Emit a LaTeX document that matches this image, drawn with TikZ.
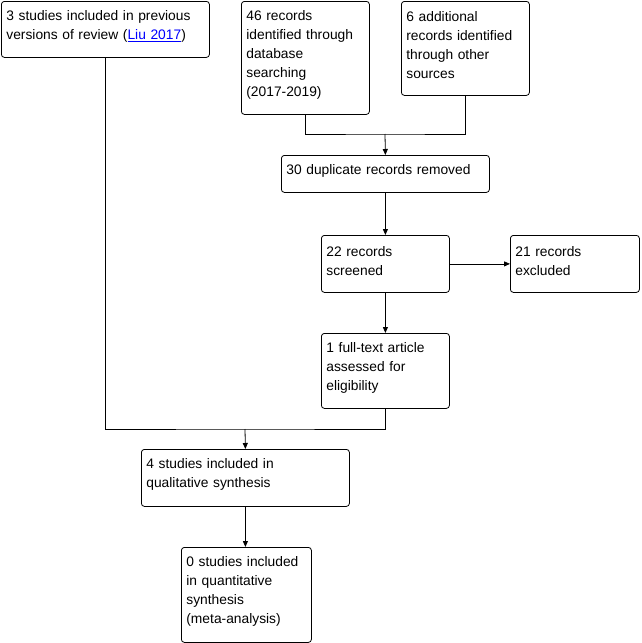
\documentclass[tikz,border=0pt]{standalone}
\usepackage{fontspec}
\setmainfont{Liberation Sans}
\usepackage{xcolor}
\usetikzlibrary{arrows.meta, calc, positioning}
\newcommand{\boxpad}{\par\vspace{6pt}}

\begin{document}
\begin{tikzpicture}[x=1pt, y=-1pt, line width=0.8pt,
        box/.style={draw, rounded corners=3pt, anchor=north west, align=left, inner xsep=5pt, inner ysep=0pt, font=\fontsize{13.8}{19}\selectfont, execute at end node={\boxpad}},
        narrow/.style={box, text width=118pt},
        wide/.style={box, text width=198pt},
        arr/.style={-{Triangle[length=6pt, width=5pt]}}]
    \useasboundingbox (0,0) rectangle (641,643);
    \node[wide, minimum height=56pt] (prev) at (1,1) {3 studies included in previous\\versions of review (\textcolor{blue}{\underline{Liu 2017}})};
    \node[narrow, minimum height=113pt] (db) at (241,1) {46 records\\identified through\\database\\searching\\(2017-2019)};
    \node[narrow, minimum height=94pt] (other) at (401,1) {6 additional\\records identified\\through other\\sources};
    \node[wide, minimum height=37pt] (dup) at (281,155) {30 duplicate records removed};
    \node[narrow, minimum height=57pt] (scr) at (321,235) {22 records\\screened};
    \node[box, text width=119pt, minimum height=57pt] (excl) at (510,235) {21 records\\excluded};
    \node[narrow, minimum height=75pt] (full) at (321,333) {1 full-text article\\assessed for\\eligibility};
    \node[wide, minimum height=57pt] (qual) at (141,449) {4 studies included in\\qualitative synthesis};
    \node[box, text width=120pt, minimum height=95pt] (quant) at (181,547) {0 studies included\\in quantitative\\synthesis\\(meta-analysis)};

    \coordinate (j1) at (385,134);
    \coordinate (j2) at (245,429);
    \draw (db.south) |- (j1) -| (other.south);
    \draw[arr] (j1) -- (dup.north);
    \draw[arr] (dup.south) -- (scr.north);
    \draw[arr] (scr.east) -- (excl.west);
    \draw[arr] (scr.south) -- (full.north);
    \draw (prev.south) |- (j2) -| (full.south);
    \draw[arr] (j2) -- (qual.north);
    \draw[arr] (qual.south) -- (qual.south |- quant.north);
\end{tikzpicture}
\end{document}
